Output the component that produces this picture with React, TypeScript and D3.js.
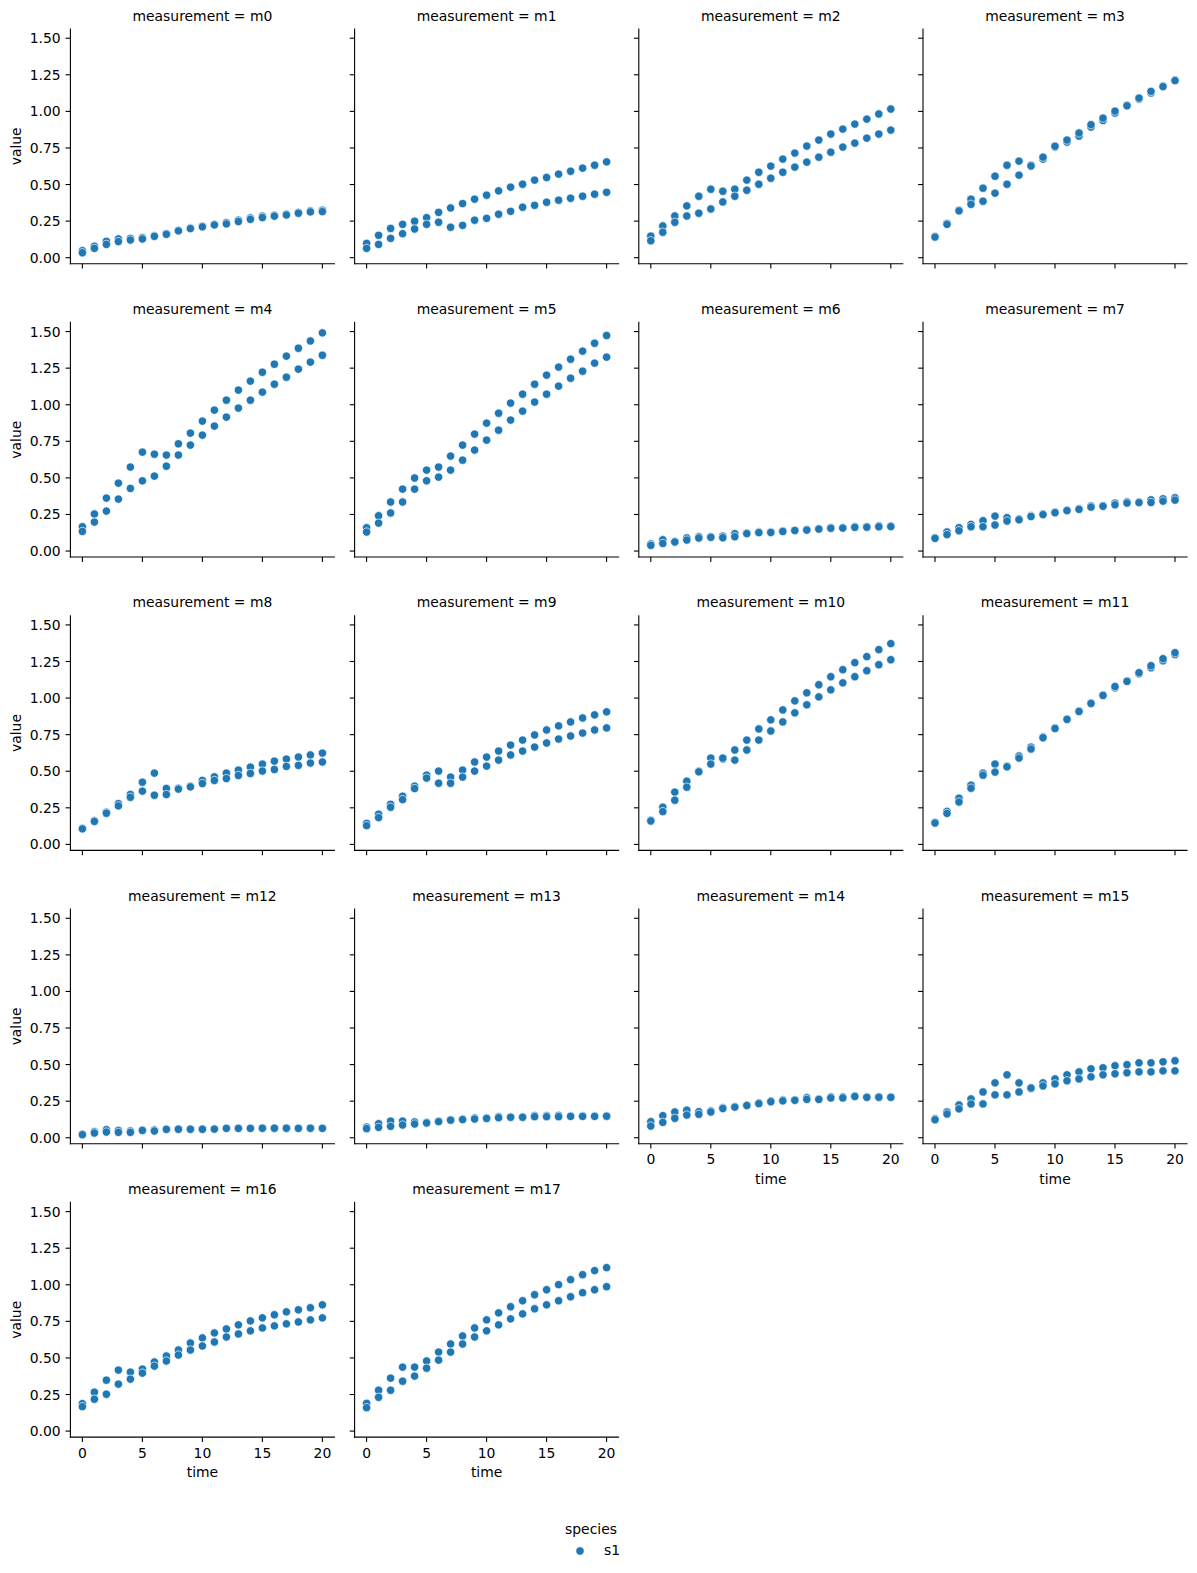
import React from 'react';
import * as d3 from 'd3';

const MEASUREMENTS = ['m0','m1','m2','m3','m4','m5','m6','m7','m8','m9','m10','m11','m12','m13','m14','m15','m16','m17'];
const TIMES = [0,1,2,3,4,5,6,7,8,9,10,11,12,13,14,15,16,17,18,19,20];
const X_TICKS = [0,5,10,15,20];
const Y_TICKS = [0,0.25,0.5,0.75,1.0,1.25,1.5];
const Y_TICK_LABELS = ['0.00','0.25','0.50','0.75','1.00','1.25','1.50'];
const SPECIES = ['s1'];

// replicate A and replicate B values for each measurement, per time
const m0A = [0.048,0.078,0.112,0.128,0.132,0.137,0.151,0.164,0.187,0.203,0.215,0.228,0.240,0.256,0.272,0.283,0.290,0.297,0.310,0.320,0.324];
const m0B = [0.034,0.064,0.091,0.110,0.121,0.128,0.146,0.160,0.183,0.199,0.211,0.224,0.231,0.247,0.262,0.274,0.284,0.292,0.304,0.313,0.315];
const m1A = [0.098,0.153,0.200,0.228,0.249,0.274,0.310,0.340,0.370,0.400,0.427,0.457,0.482,0.502,0.530,0.548,0.571,0.591,0.612,0.632,0.655];
const m1B = [0.064,0.091,0.132,0.164,0.196,0.228,0.242,0.208,0.221,0.256,0.269,0.297,0.317,0.345,0.358,0.379,0.393,0.406,0.420,0.434,0.447];
const m2A = [0.148,0.217,0.285,0.354,0.420,0.468,0.454,0.468,0.530,0.584,0.626,0.674,0.715,0.763,0.804,0.845,0.879,0.913,0.947,0.982,1.016];
const m2B = [0.116,0.174,0.242,0.285,0.304,0.333,0.381,0.420,0.461,0.502,0.543,0.584,0.619,0.653,0.687,0.721,0.756,0.783,0.817,0.845,0.872];
const m3A = [0.146,0.235,0.324,0.400,0.475,0.557,0.632,0.660,0.632,0.674,0.756,0.790,0.831,0.893,0.938,0.989,1.043,1.084,1.126,1.174,1.215];
const m3B = [0.141,0.228,0.320,0.365,0.386,0.441,0.502,0.564,0.627,0.687,0.762,0.804,0.852,0.909,0.954,1.002,1.038,1.091,1.137,1.169,1.210];
const m4A = [0.166,0.253,0.362,0.464,0.574,0.676,0.662,0.656,0.733,0.806,0.888,0.963,1.031,1.100,1.161,1.222,1.277,1.332,1.386,1.436,1.491];
const m4B = [0.134,0.198,0.273,0.355,0.428,0.480,0.512,0.580,0.656,0.724,0.792,0.854,0.915,0.977,1.031,1.086,1.140,1.188,1.243,1.291,1.338];
const m5A = [0.159,0.241,0.335,0.423,0.499,0.553,0.574,0.649,0.724,0.799,0.874,0.942,1.011,1.072,1.140,1.202,1.257,1.311,1.366,1.420,1.473];
const m5B = [0.130,0.191,0.260,0.335,0.423,0.480,0.505,0.553,0.621,0.690,0.758,0.826,0.895,0.956,1.018,1.072,1.127,1.181,1.229,1.284,1.325];
const m6A = [0.048,0.077,0.066,0.089,0.098,0.098,0.102,0.118,0.123,0.130,0.130,0.137,0.143,0.148,0.153,0.159,0.159,0.166,0.166,0.172,0.171];
const m6B = [0.039,0.052,0.062,0.075,0.089,0.094,0.091,0.098,0.119,0.126,0.127,0.134,0.140,0.143,0.150,0.156,0.157,0.162,0.163,0.166,0.167];
const m7A = [0.091,0.130,0.159,0.182,0.207,0.239,0.228,0.219,0.241,0.253,0.266,0.280,0.289,0.308,0.310,0.328,0.336,0.335,0.350,0.357,0.364];
const m7B = [0.087,0.112,0.139,0.166,0.166,0.178,0.205,0.214,0.236,0.249,0.262,0.276,0.285,0.300,0.306,0.316,0.328,0.331,0.332,0.341,0.348];
const m8A = [0.110,0.162,0.220,0.279,0.341,0.425,0.487,0.382,0.384,0.398,0.437,0.462,0.487,0.508,0.528,0.549,0.569,0.583,0.597,0.611,0.624];
const m8B = [0.106,0.157,0.213,0.263,0.322,0.364,0.336,0.341,0.378,0.393,0.416,0.437,0.450,0.471,0.485,0.501,0.512,0.533,0.540,0.556,0.563];
const m9A = [0.144,0.206,0.274,0.329,0.398,0.473,0.501,0.460,0.508,0.563,0.597,0.638,0.679,0.713,0.748,0.782,0.810,0.837,0.864,0.885,0.906];
const m9B = [0.128,0.183,0.254,0.306,0.382,0.453,0.418,0.418,0.460,0.501,0.535,0.576,0.611,0.638,0.665,0.693,0.720,0.741,0.761,0.782,0.796];
const m10A = [0.165,0.254,0.357,0.432,0.501,0.590,0.583,0.645,0.713,0.789,0.851,0.919,0.981,1.036,1.091,1.146,1.194,1.242,1.283,1.331,1.372];
const m10B = [0.160,0.224,0.302,0.391,0.496,0.549,0.590,0.576,0.645,0.713,0.775,0.837,0.899,0.954,1.008,1.056,1.104,1.146,1.187,1.228,1.262];
const m11A = [0.151,0.226,0.316,0.405,0.487,0.549,0.535,0.604,0.665,0.734,0.796,0.858,0.912,0.967,1.022,1.070,1.118,1.166,1.207,1.255,1.297];
const m11B = [0.146,0.212,0.290,0.384,0.473,0.494,0.530,0.590,0.652,0.729,0.792,0.854,0.908,0.963,1.018,1.079,1.114,1.173,1.221,1.269,1.310];
const m12A = [0.025,0.041,0.055,0.050,0.046,0.053,0.053,0.060,0.060,0.060,0.060,0.060,0.066,0.066,0.066,0.066,0.066,0.066,0.066,0.066,0.066];
const m12B = [0.021,0.032,0.039,0.037,0.037,0.050,0.046,0.057,0.058,0.058,0.058,0.059,0.064,0.064,0.064,0.065,0.065,0.065,0.064,0.065,0.064];
const m13A = [0.073,0.096,0.114,0.114,0.108,0.105,0.114,0.124,0.128,0.135,0.135,0.144,0.142,0.142,0.151,0.151,0.153,0.149,0.149,0.149,0.149];
const m13B = [0.062,0.071,0.078,0.087,0.094,0.101,0.110,0.120,0.124,0.128,0.132,0.137,0.140,0.140,0.144,0.144,0.144,0.146,0.146,0.146,0.147];
const m14A = [0.110,0.151,0.176,0.188,0.178,0.183,0.206,0.213,0.224,0.238,0.252,0.258,0.258,0.274,0.265,0.279,0.279,0.286,0.279,0.279,0.279];
const m14B = [0.080,0.105,0.133,0.155,0.160,0.176,0.200,0.209,0.220,0.233,0.246,0.252,0.256,0.262,0.262,0.272,0.272,0.282,0.276,0.277,0.276];
const m15A = [0.130,0.176,0.224,0.265,0.313,0.375,0.430,0.375,0.336,0.375,0.402,0.430,0.450,0.471,0.478,0.492,0.499,0.512,0.512,0.519,0.526];
const m15B = [0.123,0.162,0.197,0.231,0.231,0.293,0.293,0.313,0.340,0.354,0.368,0.389,0.402,0.416,0.430,0.437,0.444,0.450,0.450,0.457,0.457];
const m16A = [0.188,0.266,0.348,0.417,0.403,0.424,0.472,0.513,0.554,0.602,0.637,0.671,0.698,0.726,0.753,0.774,0.795,0.815,0.829,0.843,0.863];
const m16B = [0.167,0.218,0.252,0.321,0.355,0.396,0.444,0.479,0.520,0.554,0.582,0.609,0.643,0.664,0.685,0.705,0.719,0.733,0.746,0.760,0.774];
const m17A = [0.190,0.279,0.362,0.437,0.437,0.479,0.540,0.595,0.650,0.705,0.760,0.808,0.850,0.891,0.932,0.966,1.001,1.035,1.069,1.097,1.117];
const m17B = [0.160,0.231,0.279,0.341,0.376,0.430,0.485,0.540,0.595,0.643,0.685,0.726,0.767,0.801,0.836,0.863,0.891,0.918,0.946,0.966,0.987];

const SERIES: number[][][] = [
  [m0A, m0B], [m1A, m1B], [m2A, m2B], [m3A, m3B], [m4A, m4B], [m5A, m5B],
  [m6A, m6B], [m7A, m7B], [m8A, m8B], [m9A, m9B], [m10A, m10B], [m11A, m11B],
  [m12A, m12B], [m13A, m13B], [m14A, m14B], [m15A, m15B], [m16A, m16B], [m17A, m17B],
];

const W = 1197;
const H = 1573;
const COLOR = '#1f77b4';
const FONT = '"DejaVu Sans", sans-serif';
const FS = 13.9;
const NCOL = 4;
const LEFT0 = 70.4;
const COL_PITCH = 284.2;
const TOP0 = 29;
const ROW_PITCH = 293.35;
const PW = 264;
const PH = 234.7;
const TICK = 4.86;
const SW = 1.1;

function Panel({ idx }: { idx: number }) {
  const col = idx % NCOL;
  const row = Math.floor(idx / NCOL);
  const left = LEFT0 + col * COL_PITCH;
  const top = TOP0 + row * ROW_PITCH;
  const right = left + PW;
  const bottom = top + PH;
  const x = d3.scaleLinear().domain([-1, 21]).range([left, right]);
  const y = d3.scaleLinear().domain([-0.041, 1.563]).range([bottom, top]);
  const showXLabels = idx >= MEASUREMENTS.length - NCOL;
  const showYLabels = col === 0;
  const reps = SERIES[idx];
  const pts: { t: number; v: number }[] = [];
  TIMES.forEach((t, i) => {
    reps.forEach((r) => pts.push({ t, v: r[i] }));
  });
  return (
    <g>
      <text x={(left + right) / 2} y={top - 8.3} textAnchor="middle" fontFamily={FONT} fontSize={FS} fill="#000">
        {`measurement = ${MEASUREMENTS[idx]}`}
      </text>
      {pts.map((p, i) => (
        <circle key={i} cx={x(p.t)} cy={y(p.v)} r={4.17} fill={COLOR} stroke="#fff" strokeWidth={0.67} />
      ))}
      <line x1={left} x2={left} y1={top} y2={bottom} stroke="#000" strokeWidth={SW} strokeLinecap="square" />
      <line x1={left} x2={right} y1={bottom} y2={bottom} stroke="#000" strokeWidth={SW} strokeLinecap="square" />
      {Y_TICKS.map((v, i) => (
        <g key={'y' + i}>
          <line x1={left - TICK} x2={left} y1={y(v)} y2={y(v)} stroke="#000" strokeWidth={SW} />
          {showYLabels && (
            <text x={left - TICK - 4.86} y={y(v)} dy="0.36em" textAnchor="end" fontFamily={FONT} fontSize={FS} fill="#000">
              {Y_TICK_LABELS[i]}
            </text>
          )}
        </g>
      ))}
      {X_TICKS.map((t) => (
        <g key={'x' + t}>
          <line x1={x(t)} x2={x(t)} y1={bottom} y2={bottom + TICK} stroke="#000" strokeWidth={SW} />
          {showXLabels && (
            <text x={x(t)} y={bottom + 20.5} textAnchor="middle" fontFamily={FONT} fontSize={FS} fill="#000">
              {String(t)}
            </text>
          )}
        </g>
      ))}
      {showXLabels && (
        <text x={(left + right) / 2} y={bottom + 40} textAnchor="middle" fontFamily={FONT} fontSize={FS} fill="#000">
          time
        </text>
      )}
      {showYLabels && (
        <text
          transform={`translate(${20.5},${(top + bottom) / 2}) rotate(-90)`}
          textAnchor="middle"
          fontFamily={FONT}
          fontSize={FS}
          fill="#000"
        >
          value
        </text>
      )}
    </g>
  );
}

export default function App() {
  return (
    <svg
      width={W}
      height={H}
      viewBox={`0 0 ${W} ${H}`}
      style={{ position: 'absolute', left: 0, top: 0, background: '#fff' }}
    >
      <rect x={0} y={0} width={W} height={H} fill="#fff" />
      {MEASUREMENTS.map((m, i) => (
        <Panel key={m} idx={i} />
      ))}
      <g>
        <text x={591} y={1534} textAnchor="middle" fontFamily={FONT} fontSize={FS} fill="#000">species</text>
        {SPECIES.map((s, i) => (
          <g key={s}>
            <circle cx={580} cy={1551 + i * 20} r={4.17} fill={COLOR} stroke="#fff" strokeWidth={0.67} />
            <text x={604} y={1555 + i * 20} fontFamily={FONT} fontSize={FS} fill="#000">{s}</text>
          </g>
        ))}
      </g>
    </svg>
  );
}
